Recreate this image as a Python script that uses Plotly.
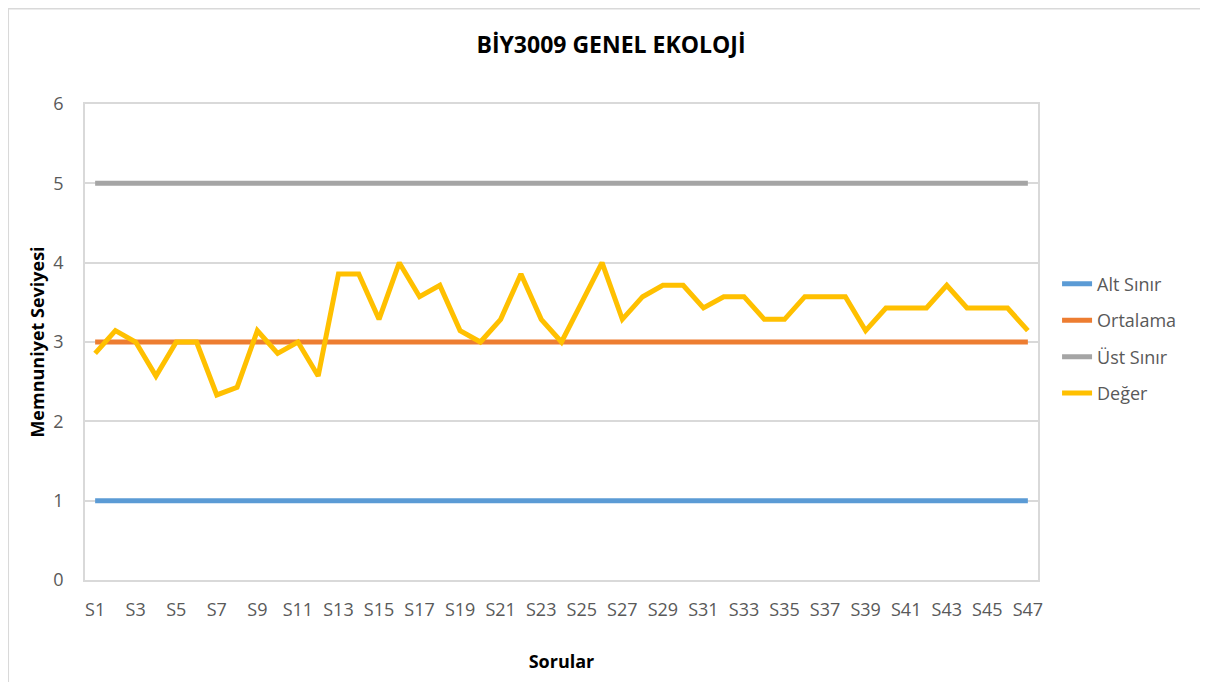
import plotly.graph_objects as go

#categories and values
sorular = [f"S{i}" for i in range(1, 48)]
alt_sinir = [1] * 47
ortalama = [3] * 47
ust_sinir = [5] * 47
deger = [2.857, 3.143, 3.0, 2.571, 3.0, 3.0, 2.333, 2.429, 3.143, 2.857,
         3.0, 2.571, 3.857, 3.857, 3.286, 4.0, 3.571, 3.714, 3.143, 3.0,
         3.286, 3.857, 3.286, 3.0, 3.5, 4.0, 3.286, 3.571, 3.714, 3.714,
         3.429, 3.571, 3.571, 3.286, 3.286, 3.571, 3.571, 3.571, 3.143, 3.429,
         3.429, 3.429, 3.714, 3.429, 3.429, 3.429, 3.143]
tick_labels = sorular[::2]
y_ticks = [0, 1, 2, 3, 4, 5, 6]

fig = go.Figure()
series = [
    ("Alt Sınır", alt_sinir, "#5B9BD5"),
    ("Ortalama", ortalama, "#ED7D31"),
    ("Üst Sınır", ust_sinir, "#A5A5A5"),
    ("Değer", deger, "#FFC000"),
]
for name, vals, color in series:
    fig.add_trace(go.Scatter(x=sorular, y=vals, name=name, mode='lines', legendgroup=name,
                             line=dict(color=color, width=5)))

fig.update_layout(
    width=1200, height=674,
    margin=dict(l=77, r=170, t=96, b=102),
    paper_bgcolor='white', plot_bgcolor='white',
    font=dict(family="Open Sans, Noto Sans, sans-serif", color='#595959', size=18),
    title=dict(text="<b>BİY3009 GENEL EKOLOJİ</b>", x=0.5025, xanchor='center',
               y=0.945, yanchor='middle', font=dict(size=23, color='black')),
    legend=dict(x=1.02, xanchor='left', y=0.507, yanchor='middle',
                font=dict(size=18, color='#595959'), tracegroupgap=10),
    showlegend=True,
)
fig.update_xaxes(
    type='category', range=[-0.5, 46.5],
    tickvals=tick_labels, ticktext=tick_labels, tickangle=0,
    showgrid=False, showline=True, linecolor='#D9D9D9', linewidth=1.5, mirror=True,
    ticks='', ticklabelstandoff=13,
    title=dict(text="<b>Sorular</b>", font=dict(size=18, color='black'), standoff=35),
)
fig.update_yaxes(
    range=[0, 6], tickvals=y_ticks, showgrid=True, gridcolor='#D9D9D9', gridwidth=1.5,
    showline=True, linecolor='#D9D9D9', linewidth=1.5, mirror=True, zeroline=False,
    ticks='', ticklabelstandoff=16,
    title=dict(text="<b>Memnuniyet Seviyesi</b>", font=dict(size=18, color='black'), standoff=4),
)
#outer chart border
fig.add_shape(type='rect', xref='paper', yref='paper', x0=-0.0805, x1=1.1835, y0=-0.3, y1=1.2,
              line=dict(color='#D9D9D9', width=1.5), fillcolor='rgba(0,0,0,0)')

fig.write_html("out.html")
